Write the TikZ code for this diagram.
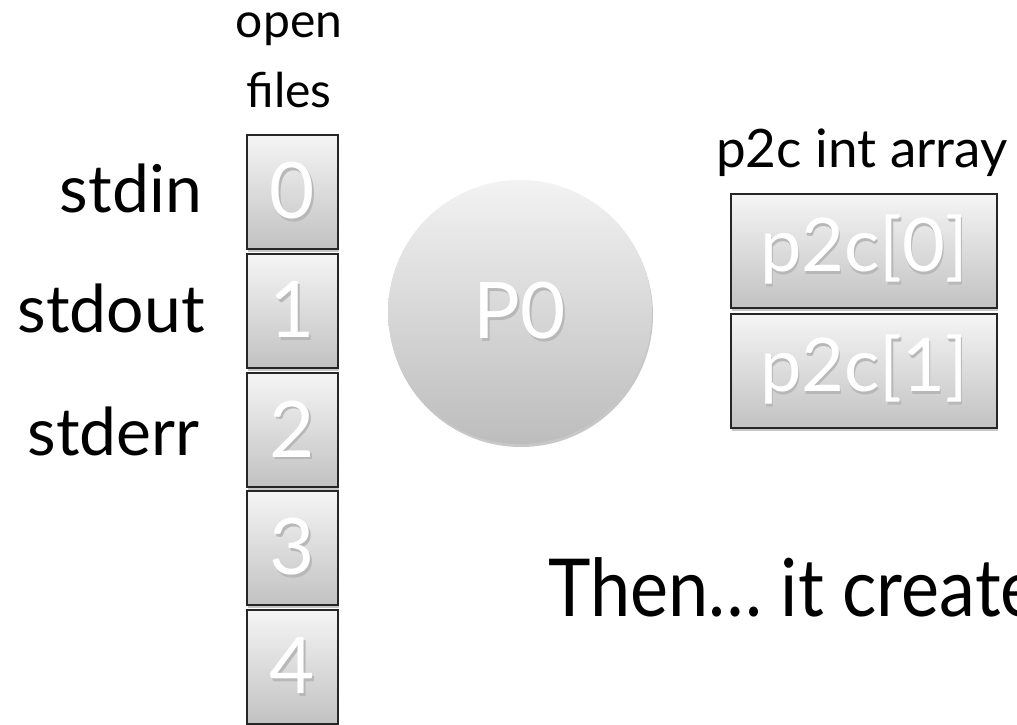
\documentclass[tikz,border=0pt]{standalone}
\usepackage{fontspec}
\setmainfont{Lato}
\usetikzlibrary{shadows}
\newcommand{\shadowtext}[1]{\makebox[0pt][l]{\hspace{1.2pt}\raisebox{-2.2pt}{\textcolor{black!28}{#1}}}\textcolor{white}{#1}}
\begin{document}
\begin{tikzpicture}[x=1pt,y=-1pt,
  lbl/.style={inner sep=0pt, text=black},
  grayfill/.style={top color=black!4, bottom color=black!24},
  fdbox/.style={draw=black!85, line width=1.2pt, grayfill, minimum width=91pt, minimum height=114pt, inner sep=0pt,
     font=\fontsize{78}{78}\selectfont,
     drop shadow={shadow xshift=1pt, shadow yshift=-3pt, opacity=0.22, fill=black}},
  arrbox/.style={fdbox, minimum width=266pt, font=\fontsize{74}{74}\selectfont},
  proc/.style={circle, top color=black!5, bottom color=black!26, minimum size=264pt, inner sep=0pt,
     font=\fontsize{78}{78}\selectfont,
     drop shadow={shadow xshift=1pt, shadow yshift=-3pt, opacity=0.22, fill=black}}
]
\useasboundingbox (0,0) rectangle (1017,725);
% open files column
\node[lbl, align=center, font=\fontsize{48}{70}\selectfont, anchor=base] (title) at (289,107) {open\\files};
\node[fdbox] (f0) at (292.5,192) {\shadowtext{0}};
\node[fdbox] (f1) at (292.5,311) {\shadowtext{1}};
\node[fdbox] (f2) at (292.5,430) {\shadowtext{2}};
\node[fdbox] (f3) at (292.5,548) {\shadowtext{3}};
\node[fdbox] (f4) at (292.5,667) {\shadowtext{4}};
% labels
\node[lbl, anchor=base east, font=\fontsize{66}{66}\selectfont] (stdin) at (202,212) {stdin};
\node[lbl, anchor=base east, font=\fontsize{66}{66}\selectfont] (stdout) at (205,332) {stdout};
\node[lbl, anchor=base east, font=\fontsize{66}{66}\selectfont] (stderr) at (200,455) {stderr};
% process
\node[proc] (p0) at (520,312) {\shadowtext{P0}};
% p2c array
\node[lbl, anchor=base west, font=\fontsize{53}{53}\selectfont] (arrtitle) at (716,167) {p2c int array};
\node[arrbox] (a0) at (864,251) {\shadowtext{p2c[0]}};
\node[arrbox] (a1) at (864,371) {\shadowtext{p2c[1]}};
% caption
\node[lbl, anchor=base west, font=\fontsize{80}{80}\selectfont] (then) at (548,616) {\scalebox{0.9}[1]{Then… it create}};
\end{tikzpicture}
\end{document}
